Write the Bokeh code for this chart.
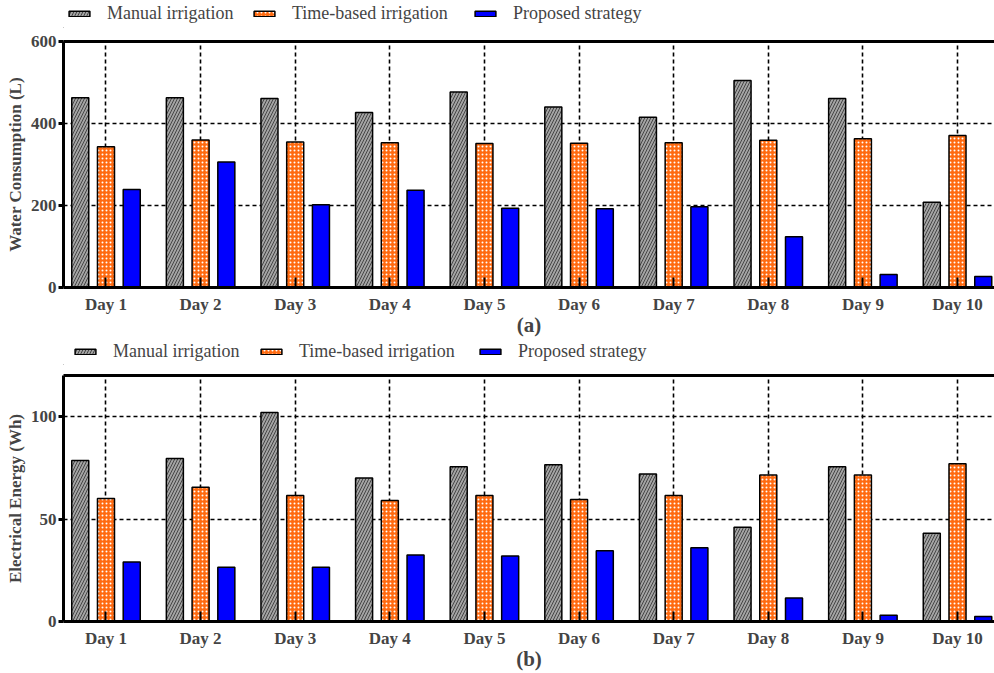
from bokeh.plotting import figure
from bokeh.models import (ColumnDataSource, Legend, LegendItem, LinearAxis,
                          FixedTicker, Range1d, Dodge)
from bokeh.layouts import column
from bokeh.embed import file_html
from bokeh.resources import INLINE

# Daily results for the ten-day irrigation trial
days = ["Day 1", "Day 2", "Day 3", "Day 4", "Day 5",
        "Day 6", "Day 7", "Day 8", "Day 9", "Day 10"]
series_names = ["Manual irrigation", "Time-based irrigation", "Proposed strategy"]

# Water consumption (L)
water_manual = [463, 463, 461, 427, 477, 440, 415, 505, 461, 208]
water_time = [343, 360, 355, 353, 351, 352, 353, 359, 363, 371]
water_proposed = [239, 306, 202, 237, 193, 192, 197, 124, 32, 27]

# Electrical energy (Wh)
energy_manual = [78.5, 79.5, 102, 70, 75.5, 76.5, 72, 46, 75.5, 43]
energy_time = [60, 65.5, 61.5, 59, 61.5, 59.5, 61.5, 71.5, 71.5, 77]
energy_proposed = [29, 26.5, 26.5, 32.5, 32, 34.5, 36, 11.5, 3, 2.5]

SERIF = "Liberation Serif"
FRAME_W, FRAME_H = 931, 246
WIDTH = 994

# bar styles shared by the plots and their legends
STYLES = [
    dict(fill_color="#a3a3a3", line_color="black", line_width=1.5,
         hatch_pattern="right_diagonal_line", hatch_color="#3a3a3a",
         hatch_scale=6, hatch_weight=0.9),
    dict(fill_color="#ff6a10", line_color="black", line_width=1.5,
         hatch_pattern="dot", hatch_color="white",
         hatch_scale=4, hatch_weight=2.8),
    dict(fill_color="#0000ff", line_color="black", line_width=1.5),
]


def legend_strip(height, item_x):
    """A thin figure that only holds the horizontal legend entries."""
    p = figure(frame_width=WIDTH, frame_height=height, output_backend="svg",
               toolbar_location=None, x_axis_location=None,
               y_axis_location=None, min_border=0, min_border_left=0,
               min_border_right=0, min_border_top=0, min_border_bottom=0,
               x_range=Range1d(1, 2), y_range=Range1d(1, 2))
    p.grid.visible = False
    p.outline_line_color = None
    # zero-size swatch source sitting outside the visible range
    swatch = ColumnDataSource(dict(x=[0], top=[0]))
    for name, style, x0 in zip(series_names, STYLES, item_x):
        r = p.vbar(x="x", top="top", width=0, source=swatch, **style)
        legend = Legend(items=[LegendItem(label=name, renderers=[r])],
                        orientation="horizontal",
                        location=(x0, (height - 20) / 2),
                        margin=0, padding=0,
                        glyph_width=26, glyph_height=7, label_height=20,
                        label_standoff=15,
                        label_text_font=SERIF, label_text_font_size="18px",
                        border_line_color=None, background_fill_alpha=0)
        p.add_layout(legend, "center")
    return p


def panel(manual, timed, proposed, y_max, y_ticks, y_title, caption,
          border_top, border_bottom):
    pos = list(range(1, len(days) + 1))
    src = ColumnDataSource(dict(x=pos, manual=manual, timed=timed,
                                proposed=proposed))
    p = figure(frame_width=FRAME_W, frame_height=FRAME_H,
               output_backend="svg", toolbar_location=None,
               x_range=Range1d(0.551, 10.391), y_range=Range1d(0, y_max),
               min_border_left=WIDTH - FRAME_W, min_border_right=0,
               min_border_top=border_top, min_border_bottom=border_bottom)
    p.outline_line_color = None

    # dashed grid at category centres and y ticks
    p.xgrid.ticker = FixedTicker(ticks=pos)
    p.ygrid.ticker = FixedTicker(ticks=y_ticks)
    for g in (p.xgrid, p.ygrid):
        g.grid_line_color = "black"
        g.grid_line_width = 1.6
        g.grid_line_dash = "4 3"

    off, w = 0.272, 0.18
    p.vbar(x={"field": "x", "transform": Dodge(value=-off)}, top="manual",
           width=w, source=src, **STYLES[0])
    p.vbar(x="x", top="timed", width=w, source=src, **STYLES[1])
    p.vbar(x={"field": "x", "transform": Dodge(value=off)}, top="proposed",
           width=w, source=src, **STYLES[2])

    # bottom axis: day labels, inward ticks, caption as axis label
    xa = p.xaxis[0]
    xa.ticker = FixedTicker(ticks=pos)
    xa.major_label_overrides = {i: d for i, d in zip(pos, days)}
    xa.axis_line_width = 3
    xa.major_tick_in = 10
    xa.major_tick_out = 0
    xa.major_tick_line_width = 2
    xa.minor_tick_line_color = None
    xa.major_label_text_font = SERIF
    xa.major_label_text_font_style = "bold"
    xa.major_label_text_font_size = "17px"
    xa.major_label_standoff = 7
    xa.axis_label = caption
    xa.axis_label_text_font = SERIF
    xa.axis_label_text_font_style = "bold"
    xa.axis_label_text_font_size = "21px"
    xa.axis_label_standoff = -4

    ya = p.yaxis[0]
    ya.ticker = FixedTicker(ticks=y_ticks)
    ya.axis_line_width = 3
    ya.major_tick_in = 0
    ya.major_tick_out = 5
    ya.major_tick_line_width = 3
    ya.minor_tick_line_color = None
    ya.major_label_text_font = SERIF
    ya.major_label_text_font_style = "bold"
    ya.major_label_text_font_size = "17px"
    ya.major_label_standoff = 2
    ya.axis_label = y_title
    ya.axis_label_text_font = SERIF
    ya.axis_label_text_font_style = "bold"
    ya.axis_label_text_font_size = "17px"
    ya.axis_label_standoff = 3

    # heavy top border (no right border)
    top = LinearAxis(ticker=FixedTicker(ticks=[]), major_tick_in=0,
                     major_tick_out=0, minor_tick_line_color=None,
                     major_label_text_font_size="1px",
                     major_label_standoff=0, axis_line_width=3)
    p.add_layout(top, "above")
    return p


leg_a = legend_strip(28, [66, 251, 472])
pa = panel(water_manual, water_time, water_proposed, 600,
           [0, 200, 400, 600], "Water Consumption (L)", "(a)", 13, 52)
leg_b = legend_strip(26, [72, 258, 477])
pb = panel(energy_manual, energy_time, energy_proposed, 120,
           [0, 50, 100], "Electrical Energy (Wh)", "(b)", 10, 52)

layout = column(leg_a, pa, leg_b, pb, spacing=0)
open("out.html", "w").write(file_html(layout, INLINE))
